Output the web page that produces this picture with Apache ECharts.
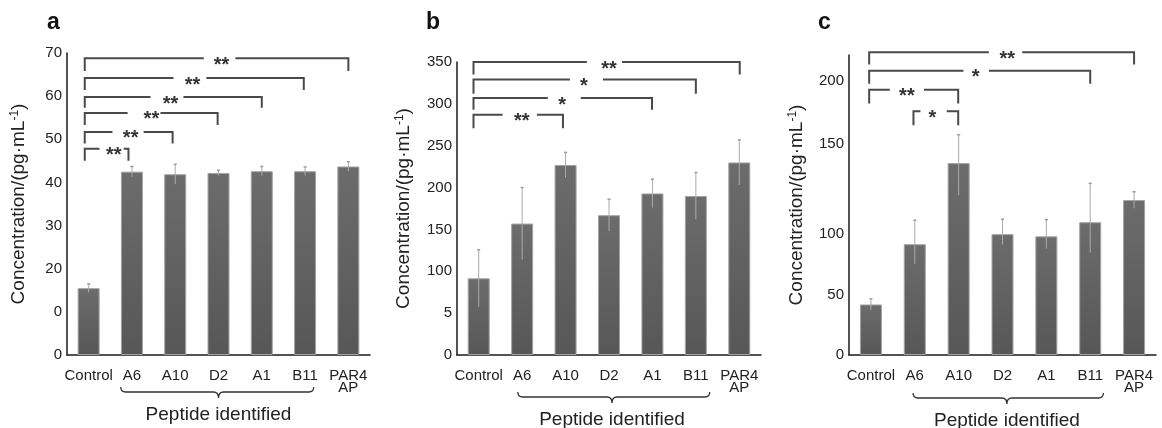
<!DOCTYPE html>
<html>
<head>
<meta charset="utf-8">
<script src="https://cdn.jsdelivr.net/npm/echarts@6/dist/echarts.min.js"></script>
<style>
  html, body { margin: 0; background: #fff; }
  #chart { width: 1162px; height: 428px; }
</style>
</head>
<body>
<div id="chart"></div>
<script>
const categories = ['Control', 'A6', 'A10', 'D2', 'A1', 'B11', 'PAR4\nAP']

// panel a
const aValues = [15.5, 42.5, 41.9, 42.2, 42.6, 42.6, 43.7]
const aErrors = [1.0, 1.2, 2.3, 0.6, 1.1, 1.0, 1.1]
const aTickText = ['0', '0', '20', '30', '40', '50', '60', '70']
// [from, to, top, foot, gapFrom, gapTo, markX, mark]
const aBrackets = [
  [-0.09, 0.92, 47.8, 45.0, 0.25, 0.81, 0.58, '**'],
  [-0.09, 1.94, 51.7, 49.0, 0.55, 1.27, 0.97, '**'],
  [-0.09, 2.98, 56.1, 53.3, 0.90, 1.66, 1.45, '**'],
  [-0.09, 4.00, 59.8, 57.3, 1.43, 2.19, 1.89, '**'],
  [-0.09, 4.97, 64.2, 61.4, 1.96, 2.72, 2.40, '**'],
  [-0.09, 6.00, 68.8, 65.8, 2.66, 3.39, 3.07, '**']
]
const aBrace = [0.74, 5.2, 3.0]

// panel b
const bValues = [91.6, 157, 227, 167, 193, 190, 230]
const bErrors = [34, 43, 15, 19, 17, 28, 27]
const bTickText = ['0', '5', '100', '150', '200', '250', '300', '350']
const bBrackets = [
  [-0.12, 1.94, 287, 271, 0.55, 1.34, 0.99, '**'],
  [-0.12, 3.99, 307, 293, 1.59, 2.35, 1.92, '*'],
  [-0.12, 5.00, 329, 312, 2.10, 2.86, 2.42, '*'],
  [-0.12, 6.01, 350, 335, 2.49, 3.30, 3.00, '**']
]
const bBrace = [0.9, 5.32, 3.07]

// panel c (its axis is not evenly spaced: labels sit at cTickAt)
const cValues = [42.3, 91.6, 139.5, 99.8, 98, 106.5, 118.9]
const cErrors = [4.7, 16, 18, 8.4, 10, 21.7, 4.6]
const cTickText = ['0', '50', '100', '150', '200']
const cTickValues = [0, 50, 100, 150, 200]
const cTickAt = [0, 50, 101.4, 176.4, 229.8]
const cBrackets = [
  [-0.04, 1.99, 192.7, 182.0, 0.43, 1.21, 0.82, '**'],
  [0.97, 1.99, 176.0, 165.0, 1.13, 1.73, 1.40, '*'],
  [-0.04, 5.00, 207.7, 197.4, 2.11, 2.69, 2.39, '*'],
  [-0.04, 6.00, 222.2, 212.6, 2.69, 3.45, 3.11, '**']
]
const cBrace = [0.96, 5.3, 3.1]

const FONT = '"Liberation Sans", Arial, sans-serif'
const TEXT = '#222'

const same = v => v
const cMap = v => {
  for (let i = 1; i < cTickValues.length; i++) {
    if (v <= cTickValues[i] || i === cTickValues.length - 1) {
      const t = (v - cTickValues[i - 1]) / (cTickValues[i] - cTickValues[i - 1])
      return cTickAt[i - 1] + t * (cTickAt[i] - cTickAt[i - 1])
    }
  }
}

const panels = [
  { values: aValues, errors: aErrors, brackets: aBrackets, brace: aBrace, map: same,
    grid: { left: 67, top: 53, width: 303, height: 302 }, braceOff: 37, nameGap: 38 },
  { values: bValues, errors: bErrors, brackets: bBrackets, brace: bBrace, map: same,
    grid: { left: 457, top: 62, width: 304, height: 293 }, braceOff: 42, nameGap: 43 },
  { values: cValues, errors: cErrors, brackets: cBrackets, brace: cBrace, map: cMap,
    grid: { left: 849, top: 55, width: 307, height: 300 }, braceOff: 43, nameGap: 42 }
]

const yAxes = [
  { min: 0, max: 70, interval: 10, axisLabel: { formatter: v => aTickText[Math.round(v / 10)] } },
  { min: 0, max: 350, interval: 50, axisLabel: { formatter: v => bTickText[Math.round(v / 50)] } },
  { min: 0, max: cMap(220), axisLabel: {
      customValues: cTickAt,
      formatter: v => {
        let k = 0
        cTickAt.forEach((t, i) => { if (Math.abs(t - v) < Math.abs(cTickAt[k] - v)) k = i })
        return cTickText[k]
      }
    } }
]

const option = {
  animation: false,
  backgroundColor: '#fff',
  title: [
    { text: 'a', left: 42, top: 6 },
    { text: 'b', left: 421, top: 6 },
    { text: 'c', left: 813, top: 6 }
  ].map(t => ({ ...t, textStyle: { fontSize: 23, fontWeight: 'bold', color: '#111', fontFamily: FONT } })),
  grid: panels.map(p => p.grid),
  xAxis: [],
  yAxis: [],
  series: []
}

panels.forEach((p, k) => {
  option.xAxis.push({
    type: 'category', gridIndex: k, data: categories,
    axisLine: { onZero: false, lineStyle: { color: '#1a1a1a', width: 1.5 } },
    axisTick: { show: false },
    axisLabel: { interval: 0, fontSize: 15, lineHeight: 12, margin: 15, color: TEXT, fontFamily: FONT }
  })
  option.xAxis.push({ type: 'value', gridIndex: k, min: -0.5, max: 6.5, show: false })

  const y = yAxes[k]
  option.yAxis.push({
    type: 'value', gridIndex: k, min: y.min, max: y.max, interval: y.interval,
    name: 'Concentration/(pg·mL{sup|-1})',
    nameLocation: 'middle', nameGap: p.nameGap,
    nameTextStyle: {
      fontSize: 19, color: TEXT, fontFamily: FONT,
      rich: { sup: { fontSize: 12, color: TEXT, fontFamily: FONT, verticalAlign: 'top', lineHeight: 20 } }
    },
    axisLine: { show: true, onZero: false, lineStyle: { color: '#1a1a1a', width: 1.5 } },
    axisTick: { show: false },
    splitLine: { show: false },
    axisLabel: { ...y.axisLabel, fontSize: 15, margin: 5, color: TEXT, fontFamily: FONT }
  })

  option.series.push({
    type: 'bar', xAxisIndex: k * 2, yAxisIndex: k, barWidth: 22,
    data: p.values.map(p.map),
    itemStyle: {
      color: new echarts.graphic.LinearGradient(0, 0, 0, 1, [
        { offset: 0, color: '#6c6c6c' },
        { offset: 1, color: '#575757' }
      ]),
      borderColor: '#a3a3a3', borderWidth: 1
    }
  })

  // error bars
  option.series.push({
    type: 'custom', xAxisIndex: k * 2, yAxisIndex: k, z: 3,
    data: p.values.map((v, i) => [i, p.map(v - p.errors[i]), p.map(v + p.errors[i])]),
    renderItem: (params, api) => {
      const lo = api.coord([api.value(0), api.value(1)])
      const hi = api.coord([api.value(0), api.value(2)])
      return {
        type: 'group',
        children: [
          { type: 'line', shape: { x1: lo[0], y1: lo[1], x2: hi[0], y2: hi[1] },
            style: { stroke: '#ababab', lineWidth: 1 } },
          { type: 'line', shape: { x1: hi[0] - 1.5, y1: hi[1], x2: hi[0] + 1.5, y2: hi[1] },
            style: { stroke: '#9a9a9a', lineWidth: 1.5 } }
        ]
      }
    }
  })

  // significance brackets
  option.series.push({
    type: 'custom', xAxisIndex: k * 2 + 1, yAxisIndex: k, z: 4,
    data: p.brackets.map(b => [b[0], b[2]]),
    renderItem: (params, api) => {
      const b = p.brackets[params.dataIndex]
      const c = (x, v) => api.coord([x, p.map(v)])
      const lf = c(b[0], b[3]), lt = c(b[0], b[2]), g1 = c(b[4], b[2])
      const g2 = c(b[5], b[2]), rt = c(b[1], b[2]), rf = c(b[1], b[3])
      const m = c(b[6], b[2])
      const line = { stroke: '#4a4a4a', lineWidth: 2, fill: null }
      return {
        type: 'group',
        children: [
          { type: 'polyline', shape: { points: [lf, lt, g1] }, style: line },
          { type: 'polyline', shape: { points: [g2, rt, rf] }, style: line },
          { type: 'text', x: m[0], y: m[1] + 7,
            style: { text: b[7], fontSize: 20, fontWeight: 'bold', fill: '#333', fontFamily: FONT,
              align: 'center', verticalAlign: 'middle' } }
        ]
      }
    }
  })

  // brace under the identified peptides
  option.series.push({
    type: 'custom', xAxisIndex: k * 2 + 1, yAxisIndex: k, z: 4,
    data: [[p.brace[2], 0]],
    renderItem: (params, api) => {
      const x1 = api.coord([p.brace[0], 0])[0]
      const x2 = api.coord([p.brace[1], 0])[0]
      const base = api.coord([p.brace[2], 0])
      const xm = base[0]
      const y0 = base[1] + p.braceOff
      const d = `M${x1},${y0 - 5} Q${x1},${y0} ${x1 + 5},${y0} L${xm - 5},${y0} Q${xm},${y0} ${xm},${y0 + 6} ` +
        `Q${xm},${y0} ${xm + 5},${y0} L${x2 - 5},${y0} Q${x2},${y0} ${x2},${y0 - 5}`
      return {
        type: 'group',
        children: [
          { type: 'path', shape: { pathData: d }, style: { stroke: '#333', lineWidth: 1.3, fill: null } },
          { type: 'text', x: xm, y: y0 + 23,
            style: { text: 'Peptide identified', fontSize: 19, fill: TEXT, fontFamily: FONT,
              align: 'center', verticalAlign: 'middle' } }
        ]
      }
    }
  })
})

const chart = echarts.init(document.getElementById('chart'))
chart.setOption(option)
</script>
</body>
</html>
